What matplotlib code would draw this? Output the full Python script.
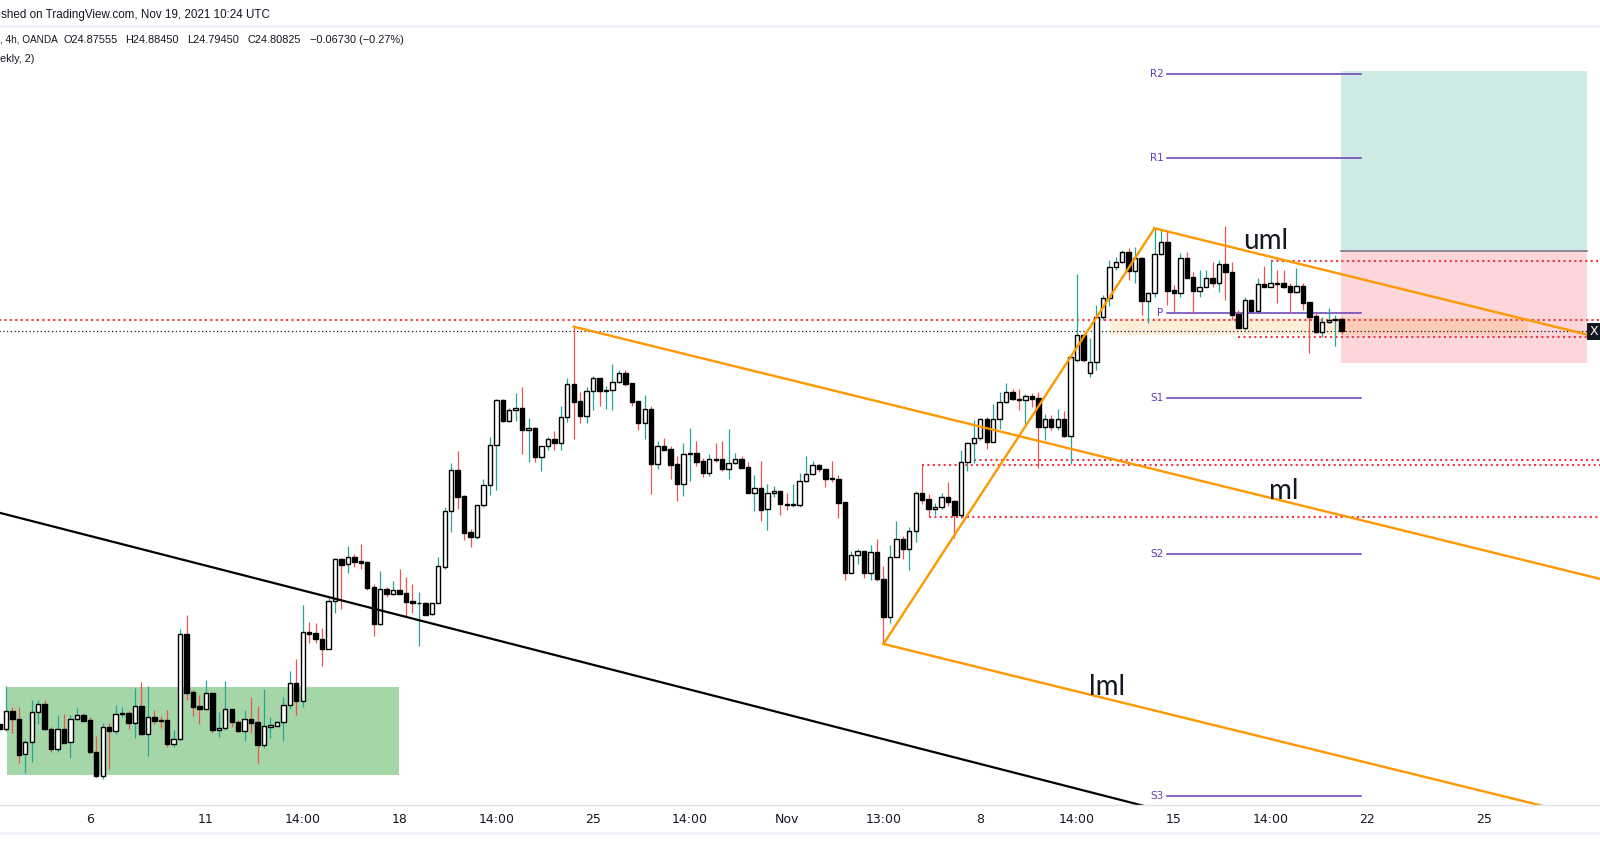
import numpy as np
import matplotlib
matplotlib.use("Agg")
import matplotlib.pyplot as plt
from matplotlib.patches import Rectangle
from matplotlib.lines import Line2D

plt.rcParams['font.family'] = ['DejaVu Sans']

# ---------------- data (XAG/USD 4h, OANDA) ----------------
first_bar = -14
opens = [22.675, 22.646, 22.744, 22.702, 22.510, 22.575, 22.738, 22.784, 22.648, 22.541,
         22.648, 22.575, 22.700, 22.722, 22.697, 22.523, 22.394, 22.657, 22.639, 22.727,
         22.736, 22.682, 22.773, 22.622, 22.711, 22.697, 22.697, 22.568, 22.591, 23.162,
         22.849, 22.773, 22.758, 22.843, 22.644, 22.651, 22.755, 22.686, 22.639, 22.702,
         22.686, 22.562, 22.660, 22.666, 22.684, 22.776, 22.896, 22.802, 23.173, 23.169,
         23.137, 23.084, 23.341, 23.570, 23.543, 23.582, 23.561, 23.555, 23.419, 23.220,
         23.407, 23.380, 23.401, 23.387, 23.343, 23.331, 23.332, 23.271, 23.331, 23.530,
         23.831, 24.055, 23.914, 23.718, 23.693, 23.863, 23.972, 24.189, 24.436, 24.323,
         24.379, 24.392, 24.274, 24.283, 24.128, 24.186, 24.224, 24.204, 24.341, 24.522,
         24.430, 24.350, 24.483, 24.553, 24.486, 24.490, 24.532, 24.580, 24.528, 24.430,
         24.312, 24.387, 24.090, 24.186, 24.169, 24.088, 23.981, 24.140, 24.147, 24.104,
         24.041, 24.115, 24.115, 24.062, 24.091, 24.113, 24.071, 23.932, 23.955, 23.841,
         23.928, 23.939, 23.870, 23.863, 23.867, 23.994, 24.031, 24.082, 24.059, 24.010,
         24.004, 23.879, 23.493, 23.591, 23.613, 23.493, 23.608, 23.461, 23.258, 23.580,
         23.678, 23.624, 23.722, 23.928, 23.896, 23.841, 23.854, 23.908, 23.887, 23.812,
         24.097, 24.200, 24.227, 24.330, 24.205, 24.330, 24.423, 24.477, 24.441, 24.434,
         24.457, 24.445, 24.290, 24.330, 24.287, 24.330, 24.242, 24.653, 24.789, 24.580,
         24.640, 24.889, 24.989, 25.157, 25.188, 25.239, 25.135, 25.206, 24.972, 25.016,
         25.228, 25.293, 25.034, 25.016, 25.206, 25.103, 25.030, 25.052, 25.099, 25.070,
         25.173, 25.130, 24.903, 24.829, 24.980, 24.922, 25.065, 25.052, 25.070, 25.070,
         25.056, 25.025, 25.056, 24.966, 24.892, 24.807, 24.858, 24.869, 24.87555]
highs = [22.687, 22.883, 22.765, 22.765, 22.588, 22.805, 22.805, 22.805, 22.660, 22.724,
         22.727, 22.724, 22.760, 22.733, 22.715, 22.610, 22.678, 22.682, 22.778, 22.769,
         22.747, 22.869, 22.901, 22.881, 22.751, 22.718, 22.749, 22.642, 23.191, 23.267,
         22.860, 22.832, 22.914, 22.843, 22.742, 22.907, 22.755, 22.697, 22.751, 22.823,
         22.773, 22.865, 22.715, 22.693, 22.823, 22.963, 23.028, 23.322, 23.229, 23.222,
         23.197, 23.358, 23.575, 23.575, 23.642, 23.599, 23.653, 23.562, 23.436, 23.506,
         23.421, 23.452, 23.517, 23.476, 23.436, 23.394, 23.340, 23.334, 23.581, 23.852,
         24.095, 24.159, 23.919, 23.735, 23.863, 24.006, 24.236, 24.441, 24.441, 24.394,
         24.474, 24.506, 24.338, 24.287, 24.186, 24.233, 24.269, 24.403, 24.555, 24.834,
         24.481, 24.506, 24.566, 24.555, 24.512, 24.631, 24.599, 24.599, 24.528, 24.430,
         24.463, 24.403, 24.213, 24.229, 24.187, 24.131, 24.200, 24.283, 24.213, 24.120,
         24.142, 24.200, 24.213, 24.278, 24.146, 24.131, 24.097, 24.028, 24.104, 23.979,
         23.968, 23.939, 23.932, 23.979, 24.041, 24.133, 24.104, 24.088, 24.062, 24.106,
         24.028, 23.879, 23.615, 23.626, 23.613, 23.647, 23.680, 23.533, 23.647, 23.778,
         23.698, 23.747, 23.943, 24.082, 23.925, 23.874, 23.928, 23.988, 23.892, 24.164,
         24.209, 24.327, 24.336, 24.345, 24.412, 24.481, 24.526, 24.493, 24.493, 24.468,
         24.472, 24.477, 24.359, 24.354, 24.385, 24.377, 24.675, 25.121, 24.798, 24.771,
         24.952, 25.007, 25.197, 25.215, 25.251, 25.260, 25.269, 25.215, 25.025, 25.369,
         25.360, 25.355, 25.061, 25.233, 25.242, 25.134, 25.143, 25.143, 25.188, 25.197,
         25.382, 25.188, 24.925, 24.998, 24.983, 25.101, 25.164, 25.191, 25.143, 25.143,
         25.070, 25.152, 25.070, 24.966, 24.907, 24.888, 24.937, 24.897, 24.8845]
lows = [22.633, 22.639, 22.628, 22.461, 22.407, 22.470, 22.675, 22.642, 22.521, 22.524,
        22.570, 22.492, 22.697, 22.687, 22.515, 22.389, 22.374, 22.432, 22.619, 22.715,
        22.648, 22.601, 22.615, 22.503, 22.675, 22.651, 22.552, 22.552, 22.588, 22.805,
        22.720, 22.675, 22.755, 22.624, 22.606, 22.642, 22.660, 22.633, 22.584, 22.624,
        22.465, 22.543, 22.601, 22.664, 22.584, 22.756, 22.724, 22.769, 23.117, 23.117,
        22.992, 23.082, 23.280, 23.298, 23.497, 23.530, 23.517, 23.403, 23.155, 23.211,
        23.367, 23.376, 23.381, 23.255, 23.280, 23.100, 23.267, 23.267, 23.331, 23.517,
        23.720, 23.842, 23.675, 23.639, 23.682, 23.852, 23.919, 23.946, 24.316, 24.316,
        24.323, 24.142, 24.099, 24.099, 24.050, 24.166, 24.164, 24.166, 24.318, 24.225,
        24.311, 24.312, 24.381, 24.403, 24.387, 24.381, 24.530, 24.513, 24.403, 24.272,
        24.225, 23.926, 24.061, 24.164, 24.006, 23.887, 23.914, 23.995, 24.077, 24.017,
        24.024, 24.100, 24.048, 24.006, 24.088, 24.064, 23.928, 23.834, 23.780, 23.729,
        23.910, 23.811, 23.838, 23.856, 23.856, 23.992, 24.026, 24.046, 23.964, 23.992,
        23.796, 23.457, 23.493, 23.544, 23.470, 23.457, 23.454, 23.110, 23.222, 23.580,
        23.571, 23.512, 23.662, 23.870, 23.801, 23.810, 23.841, 23.861, 23.684, 23.796,
        24.051, 24.095, 24.218, 24.167, 24.205, 24.278, 24.421, 24.435, 24.381, 24.312,
        24.399, 24.068, 24.218, 24.272, 24.272, 24.236, 24.088, 24.640, 24.644, 24.560,
        24.600, 24.871, 24.947, 25.143, 25.179, 25.088, 25.070, 24.898, 24.853, 24.998,
        25.224, 24.952, 24.916, 24.998, 25.097, 24.911, 24.994, 25.048, 25.048, 25.021,
        24.980, 24.871, 24.826, 24.816, 24.916, 24.922, 25.048, 25.052, 24.961, 25.043,
        24.907, 25.019, 24.925, 24.693, 24.798, 24.780, 24.852, 24.731, 24.7945]
closes = [22.646, 22.744, 22.700, 22.508, 22.575, 22.738, 22.782, 22.646, 22.541, 22.646,
          22.573, 22.700, 22.722, 22.693, 22.521, 22.394, 22.657, 22.639, 22.727, 22.735,
          22.682, 22.771, 22.622, 22.711, 22.693, 22.693, 22.568, 22.591, 23.162, 22.845,
          22.769, 22.758, 22.842, 22.644, 22.653, 22.755, 22.684, 22.639, 22.700, 22.682,
          22.562, 22.662, 22.669, 22.686, 22.776, 22.896, 22.802, 23.173, 23.166, 23.135,
          23.084, 23.341, 23.570, 23.541, 23.581, 23.557, 23.552, 23.416, 23.220, 23.407,
          23.380, 23.401, 23.383, 23.340, 23.331, 23.334, 23.269, 23.331, 23.533, 23.832,
          24.055, 23.910, 23.715, 23.693, 23.863, 23.972, 24.191, 24.436, 24.323, 24.379,
          24.390, 24.274, 24.282, 24.128, 24.186, 24.222, 24.204, 24.341, 24.522, 24.426,
          24.350, 24.483, 24.553, 24.486, 24.490, 24.532, 24.580, 24.524, 24.426, 24.312,
          24.387, 24.090, 24.186, 24.166, 24.084, 23.981, 24.140, 24.147, 24.100, 24.041,
          24.113, 24.111, 24.062, 24.091, 24.113, 24.068, 23.932, 23.955, 23.838, 23.928,
          23.939, 23.869, 23.863, 23.870, 23.994, 24.033, 24.080, 24.059, 24.008, 24.004,
          23.877, 23.493, 23.591, 23.613, 23.493, 23.608, 23.461, 23.258, 23.580, 23.678,
          23.624, 23.722, 23.928, 23.892, 23.841, 23.854, 23.906, 23.883, 23.812, 24.097,
          24.200, 24.227, 24.330, 24.205, 24.330, 24.423, 24.477, 24.439, 24.434, 24.455,
          24.443, 24.290, 24.330, 24.287, 24.330, 24.242, 24.667, 24.789, 24.653, 24.640,
          24.889, 24.989, 25.157, 25.188, 25.239, 25.135, 25.206, 24.972, 25.016, 25.228,
          25.293, 25.030, 25.016, 25.206, 25.101, 25.030, 25.052, 25.097, 25.070, 25.173,
          25.130, 24.898, 24.829, 24.980, 24.922, 25.065, 25.052, 25.070, 25.065, 25.052,
          25.025, 25.056, 24.965, 24.888, 24.807, 24.858, 24.870, 24.874, 24.80825]

# x-axis tick labels (bar index of each label)
tick_bars = [0, 18, 33, 48, 63, 78, 93, 108, 123, 138, 153, 168, 183, 198, 216]
tick_labels = ["6", "11", "14:00", "18", "14:00", "25", "14:00", "Nov", "13:00",
               "8", "14:00", "15", "14:00", "22", "25"]

# header legend pieces
legend_items = [", 4h, OANDA", "O24.87555", "H24.88450", "L24.79450", "C24.80825",
                "\u22120.06730 (\u22120.27%)"]
legend_x = [0, 63, 125, 187, 247, 310]
legend_size = [7.2, 7.9, 7.9, 7.9, 7.9, 7.9]

# drawings (bar index, price)
trend_pts = [(-14, 23.823), (163, 22.233)]
pf_pivot = (75, 24.834)      # Oct 22 high
pf_a = (123, 23.110)         # Nov 3 low
pf_b = (165, 25.369)         # Nov 12 high
green_zone = (-12.83, 47.9, 22.398, 22.876)
pivot_names = ["R2", "R1", "P", "S1", "S2", "S3"]
pivot_levels = [26.206, 25.749, 24.907, 24.449, 23.598, 22.284]
pivot_span = (167, 197)
red_levels = [24.870, 25.191, 24.780, 24.110, 24.082, 23.801]
red_starts = [-14, 183, 178, 137, 129, 130]
last_close = 24.80825
zone_band = (158.1, 222.9, 24.789, 24.881)
pos_span = (193.9, 232.0)
pos_target, pos_entry, pos_stop = 26.224, 25.245, 24.637

# ---------------- figure ----------------
W, H = 1600, 868
fig = plt.figure(figsize=(W / 100, H / 100), dpi=100)
fig.patch.set_facecolor('white')
ax = fig.add_axes([0, 63 / H, 1, 778 / H])
ax.set_xlim(-13.916, 234.04)
ax.set_ylim(22.2346, 26.463)
for s in ax.spines.values():
    s.set_visible(False)
ax.set_yticks([])

x = np.arange(first_bar, first_bar + len(opens))
o = np.array(opens); h = np.array(highs); l = np.array(lows); c = np.array(closes)
up = c >= o

# background zones
ax.add_patch(Rectangle((green_zone[0], green_zone[2]), green_zone[1] - green_zone[0],
                       green_zone[3] - green_zone[2], color='#A5D6A7', lw=0, zorder=1))
ax.add_patch(Rectangle((pos_span[0], pos_entry), pos_span[1] - pos_span[0], pos_target - pos_entry,
                       facecolor=(8 / 255, 153 / 255, 129 / 255, 0.2), lw=0, zorder=1))
ax.add_patch(Rectangle((pos_span[0], pos_stop), pos_span[1] - pos_span[0], pos_entry - pos_stop,
                       facecolor=(242 / 255, 54 / 255, 69 / 255, 0.2), lw=0, zorder=1))
ax.plot(pos_span, [pos_entry, pos_entry], color='#787B86', lw=1.2, zorder=1.2)
ax.add_patch(Rectangle((zone_band[0], zone_band[2]), zone_band[1] - zone_band[0],
                       zone_band[3] - zone_band[2], facecolor=(1.0, 152 / 255, 0, 0.15), lw=0, zorder=1.1))

# horizontal levels
for lev, st in zip(red_levels, red_starts):
    ax.plot([st, 240], [lev, lev], color='#F23645', lw=1.5, ls=(0, (1, 1.6)), zorder=1.5)
ax.plot([-14, 240], [last_close, last_close], color='#131722', lw=0.9, ls=(0, (1, 2)), zorder=1.5)

# pivots
pcol = '#673AB7'
for name, lev in zip(pivot_names, pivot_levels):
    ax.plot(pivot_span, [lev, lev], color=pcol, lw=1.1, zorder=1.6)
    ax.text(pivot_span[0] - 0.6, lev, name, color=pcol, fontsize=7.5, ha='right', va='center', zorder=5)

# candles
ax.vlines(x, l, h, colors=np.where(up, '#26A69A', '#EF5350'), lw=0.9, zorder=2)
body_lo = np.minimum(o, c)
body_h = np.maximum(np.abs(c - o), 0.004)
ax.bar(x, body_h, bottom=body_lo, width=0.68, color=np.where(up, 'white', 'black'),
       edgecolor='black', linewidth=1.0, zorder=3)

# trend line
(t0x, t0y), (t1x, t1y) = trend_pts
ts = (t1y - t0y) / (t1x - t0x)
ax.plot([t0x, 260], [t0y, t0y + ts * (260 - t0x)], color='black', lw=1.6, zorder=4, solid_capstyle='butt')

# pitchfork
orange = '#FF9800'
mx = (pf_a[0] + pf_b[0]) / 2
my = (pf_a[1] + pf_b[1]) / 2
slope = (my - pf_pivot[1]) / (mx - pf_pivot[0])
far = 300
for px_, py_ in (pf_pivot, pf_a, pf_b):
    ax.plot([px_, far], [py_, py_ + slope * (far - px_)], color=orange, lw=1.7, zorder=4)
ax.plot([pf_a[0], pf_b[0]], [pf_a[1], pf_b[1]], color=orange, lw=1.7, zorder=4)

lbl_font = ['Lato', 'DejaVu Sans']
ax.text(182.2, 25.30, 'uml', fontsize=20, family=lbl_font, ha='center', va='center', color='#131722', zorder=5)
ax.text(185.1, 23.94, 'ml', fontsize=20, family=lbl_font, ha='center', va='center', color='#131722', zorder=5)
ax.text(157.6, 22.876, 'lml', fontsize=20, family=lbl_font, ha='center', va='center', color='#131722', zorder=5)

# x axis
ax.set_xticks(tick_bars)
ax.set_xticklabels(tick_labels)
ax.tick_params(axis='x', length=0, pad=6, labelsize=9, colors='#131722')

# frame lines
fig.add_artist(Line2D([0, 1], [63 / H, 63 / H], color='#E0E3EB', lw=1))
fig.add_artist(Line2D([0, 1], [(H - 833) / H, (H - 833) / H], color='#F0F3FA', lw=2))
fig.add_artist(Line2D([0, 1], [(H - 26) / H, (H - 26) / H], color='#F0F3FA', lw=2))

# right price label
fig.add_artist(Rectangle((1587 / W, (H - 340) / H), 20 / W, 17 / H, transform=fig.transFigure,
                         facecolor='#131722', lw=0, zorder=10))
fig.text(1590 / W, (H - 331.5) / H, 'X', color='white', fontsize=9, va='center', ha='left', zorder=11)

# header
hc = '#131722'
hfont = ['Liberation Sans', 'DejaVu Sans']
fig.text(1 / W, 1 - 15 / H, 'shed on TradingView.com, Nov 19, 2021 10:24 UTC', fontsize=8.4,
         family=hfont, color=hc, va='center')
y2 = 1 - 40 / H
for txt, xp, fs in zip(legend_items, legend_x, legend_size):
    fig.text(xp / W, y2, txt, fontsize=fs, family=hfont, color=hc, va='center')
fig.text(0 / W, 1 - 59 / H, 'ekly, 2)', fontsize=7.9, family=hfont, color=hc, va='center')

fig.savefig('out.png', dpi=100, facecolor='white')
